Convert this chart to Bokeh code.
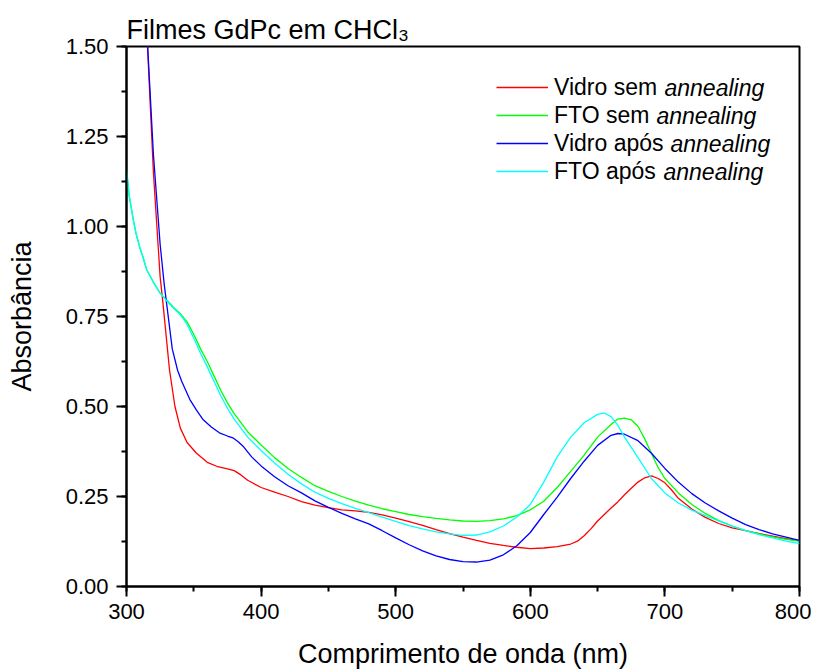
from bokeh.plotting import figure
from bokeh.models import (Label, Legend, LegendItem, SingleIntervalTicker,
                          NumeralTickFormatter, Range1d)
from bokeh.embed import file_html
from bokeh.resources import INLINE

# ---------------- data ----------------
wl_red = [300, 305, 310, 315, 320, 325, 327, 332, 336, 340, 345, 352, 360, 367, 375,
          380, 385, 390, 400, 410, 420, 430, 440, 450, 460, 470, 480, 490, 500, 510,
          520, 530, 540, 550, 560, 570, 580, 590, 600, 610, 620, 630, 635, 640, 645,
          650, 655, 660, 665, 670, 675, 680, 685, 690, 695, 700, 705, 710, 720, 730,
          740, 750, 760, 770, 780, 790, 800]
abs_red = [2.9, 2.4, 1.95, 1.55, 1.15, 0.86, 0.79, 0.60, 0.50, 0.44, 0.40, 0.37, 0.345,
           0.334, 0.327, 0.322, 0.31, 0.295, 0.275, 0.262, 0.25, 0.236, 0.226, 0.219,
           0.213, 0.21, 0.206, 0.199, 0.19, 0.18, 0.17, 0.158, 0.147, 0.137, 0.128,
           0.12, 0.114, 0.109, 0.105, 0.107, 0.111, 0.118, 0.126, 0.141, 0.16, 0.182,
           0.2, 0.218, 0.235, 0.255, 0.273, 0.29, 0.302, 0.307, 0.3, 0.288, 0.268,
           0.245, 0.215, 0.192, 0.175, 0.163, 0.155, 0.147, 0.14, 0.133, 0.127]

wl_green = [300, 302, 305, 307, 310, 312, 315, 320, 325, 330, 335, 340, 345, 350, 355,
            360, 365, 370, 375, 380, 390, 400, 410, 420, 430, 440, 450, 460, 470, 480,
            490, 500, 510, 520, 530, 540, 550, 560, 570, 580, 590, 600, 610, 620, 630,
            640, 650, 660, 665, 670, 675, 680, 685, 690, 695, 700, 710, 720, 730, 740,
            750, 760, 770, 780, 790, 800]
abs_green = [1.16, 1.085, 1.02, 0.982, 0.94, 0.918, 0.88, 0.845, 0.815, 0.795, 0.775,
             0.758, 0.735, 0.70, 0.66, 0.625, 0.585, 0.545, 0.51, 0.48, 0.43, 0.393,
             0.358, 0.328, 0.303, 0.28, 0.264, 0.25, 0.237, 0.226, 0.216, 0.208, 0.2,
             0.194, 0.189, 0.185, 0.182, 0.181, 0.183, 0.188, 0.197, 0.213, 0.237,
             0.275, 0.32, 0.365, 0.415, 0.45, 0.465, 0.468, 0.463, 0.445, 0.41, 0.37,
             0.33, 0.3, 0.26, 0.228, 0.203, 0.183, 0.168, 0.155, 0.146, 0.138, 0.131,
             0.126]

wl_blue = [300, 305, 310, 315, 320, 325, 328, 330, 334, 338, 341, 347, 352, 357, 363,
           369, 375, 379, 383, 387, 393, 400, 410, 420, 430, 440, 450, 460, 470, 480,
           490, 500, 510, 520, 530, 540, 550, 560, 570, 580, 590, 600, 610, 620, 630,
           640, 650, 660, 665, 670, 680, 690, 700, 710, 720, 730, 740, 750, 760, 770,
           780, 790, 800]
abs_blue = [2.9, 2.35, 1.9, 1.55, 1.2, 0.95, 0.84, 0.78, 0.66, 0.60, 0.57, 0.52, 0.49,
            0.463, 0.443, 0.427, 0.418, 0.413, 0.402, 0.388, 0.36, 0.335, 0.305, 0.28,
            0.26, 0.238, 0.22, 0.203, 0.188, 0.174, 0.155, 0.135, 0.116, 0.099, 0.085,
            0.075, 0.069, 0.068, 0.073, 0.088, 0.113, 0.15, 0.2, 0.248, 0.3, 0.348,
            0.392, 0.42, 0.425, 0.423, 0.405, 0.37, 0.328, 0.29, 0.258, 0.232, 0.21,
            0.19, 0.172, 0.158, 0.146, 0.137, 0.128]

wl_cyan = [300, 302, 305, 307, 310, 312, 315, 320, 325, 330, 335, 340, 345, 350, 355,
           360, 365, 370, 375, 380, 390, 400, 410, 420, 430, 440, 450, 460, 470, 480,
           490, 500, 510, 520, 530, 540, 550, 560, 570, 580, 590, 600, 610, 620, 630,
           640, 650, 655, 660, 665, 670, 680, 690, 700, 710, 720, 730, 740, 750, 760,
           770, 780, 790, 800]
abs_cyan = [1.16, 1.085, 1.02, 0.982, 0.94, 0.918, 0.88, 0.845, 0.815, 0.793, 0.773,
            0.755, 0.728, 0.69, 0.648, 0.61, 0.57, 0.53, 0.495, 0.465, 0.415, 0.378,
            0.343, 0.312, 0.285, 0.262, 0.245, 0.23, 0.217, 0.205, 0.193, 0.181, 0.169,
            0.16, 0.152, 0.146, 0.142, 0.143, 0.152, 0.168, 0.193, 0.228, 0.29, 0.36,
            0.415, 0.455, 0.478, 0.482, 0.472, 0.448, 0.415, 0.358, 0.3, 0.26, 0.232,
            0.212, 0.197, 0.182, 0.168, 0.155, 0.144, 0.135, 0.126, 0.119]

legend_main = ["Vidro sem", "FTO sem", "Vidro após", "FTO após"]
legend_italic = "annealing"
series_colors = ["#FF0000", "#00FF00", "#0000FF", "#00FFFF"]
title_text = "Filmes GdPc em CHCl\u2083"

x_ticks_interval = 100
y_ticks_interval = 0.25

FONT = "Liberation Sans"

# ---------------- figure ----------------
p = figure(frame_width=673, frame_height=540,
           min_border_left=126, min_border_right=12,
           min_border_top=46, min_border_bottom=76,
           x_range=Range1d(300, 800), y_range=Range1d(0, 1.5),
           output_backend="svg", toolbar_location=None)

p.grid.visible = False
p.background_fill_color = "white"
p.border_fill_color = "white"
p.outline_line_color = "black"
p.outline_line_width = 2
p.outline_line_alpha = 1.0

p.title.text = title_text
p.title.align = "left"
p.title.text_font = FONT
p.title.text_font_size = "27px"
p.title.text_font_style = "normal"
p.title.text_color = "black"
p.title.standoff = 4
p.title.offset = 0

series = [(wl_red, abs_red), (wl_green, abs_green), (wl_blue, abs_blue), (wl_cyan, abs_cyan)]
renderers = []
for (xs, ys), c in zip(series, series_colors):
    renderers.append(p.line(xs, ys, line_color=c, line_width=1.3))

# axes
p.xaxis.ticker = SingleIntervalTicker(interval=x_ticks_interval, num_minor_ticks=2)
p.yaxis.ticker = SingleIntervalTicker(interval=y_ticks_interval, num_minor_ticks=2)
p.yaxis.formatter = NumeralTickFormatter(format="0.00")
p.xaxis.formatter = NumeralTickFormatter(format="0")

for ax in (p.xaxis, p.yaxis):
    ax.axis_line_width = 2
    ax.axis_line_color = "black"
    ax.major_tick_line_width = 2
    ax.minor_tick_line_width = 2
    ax.major_tick_in = 0
    ax.major_tick_out = 10
    ax.minor_tick_in = 0
    ax.minor_tick_out = 5
    ax.major_label_text_font = FONT
    ax.major_label_text_font_size = "22px"
    ax.major_label_text_color = "black"
    ax.axis_label_text_font = FONT
    ax.axis_label_text_font_size = "27px"
    ax.axis_label_text_font_style = "normal"
    ax.axis_label_text_color = "black"

p.xaxis.major_label_standoff = 7
p.yaxis.major_label_standoff = 8
p.xaxis.axis_label = "Comprimento de onda (nm)"
p.yaxis.axis_label = "Absorbância"
p.xaxis.axis_label_standoff = 17
p.yaxis.axis_label_standoff = 26

# legend (normal part through Bokeh Legend, italic part through Labels)
items = [LegendItem(label=t, renderers=[r]) for t, r in zip(legend_main, renderers)]
legend = Legend(items=items, location=(370, 401),
                label_text_font=FONT, label_text_font_size="23px",
                label_text_color="black",
                glyph_width=52, glyph_height=28, label_height=28,
                label_standoff=6, padding=0, margin=0, spacing=0,
                border_line_alpha=0, background_fill_alpha=0)
p.add_layout(legend, "center")

italic_x = [538, 530, 544, 537]
row_y = [499, 471, 443, 415]
for xx, yy in zip(italic_x, row_y):
    p.add_layout(Label(x=xx, y=yy, x_units="screen", y_units="screen",
                       text=legend_italic, text_font=FONT, text_font_size="23px",
                       text_font_style="italic", text_baseline="middle",
                       text_align="left", text_color="black"))

open("out.html", "w").write(file_html(p, INLINE))
